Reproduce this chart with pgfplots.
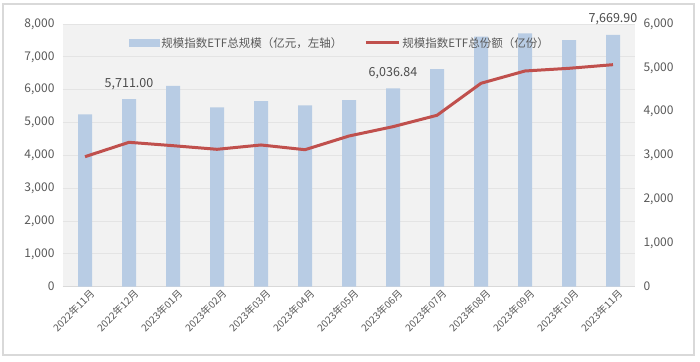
\documentclass[border=0pt]{standalone}
\usepackage{pgfplots}
\pgfplotsset{compat=1.18}
\usepackage{fontspec}
\setmainfont{Noto Sans CJK SC}
\definecolor{barc}{HTML}{B8CCE4}
\definecolor{linec}{HTML}{C0504D}
\definecolor{txt}{HTML}{595959}
\definecolor{bg}{HTML}{F2F2F2}
\definecolor{gridc}{HTML}{E4E4E4}
\definecolor{framec}{HTML}{D9D9D9}
\begin{document}
\begin{tikzpicture}[x=1pt,y=1pt]
\useasboundingbox (-63,-74.3) rectangle (637,286.7);
\fill[white] (-63,-74.3) rectangle (637,286.7);
\draw[framec, line width=1.3pt] (-60,-68.3) rectangle (631,282.7);
\begin{axis}[
  at={(0,0)}, anchor=south west,
  scale only axis, width=572pt, height=262.7pt,
  xmin=-0.5, xmax=12.5, ymin=0, ymax=8000,
  clip=false,
  axis background/.style={fill=bg},
  axis x line*=bottom, axis y line*=left,
  x axis line style={framec, line width=1pt, -},
  y axis line style={draw=none},
  major tick length=0pt,
  ytick={0,1000,...,8000},
  ymajorgrids, grid style={gridc, line width=0.9pt},
  xtick={0,...,12},
  xticklabels={2022年11月,2022年12月,2023年01月,2023年02月,2023年03月,2023年04月,2023年05月,2023年06月,2023年07月,2023年08月,2023年09月,2023年10月,2023年11月},
  xticklabel style={font=\fontsize{10}{12}\selectfont, text=txt, rotate=45, anchor=north east, xshift=5pt, yshift=-1pt},
  yticklabel style={font=\fontsize{12}{14}\selectfont, text=txt, xshift=-5pt},
  /pgf/number format/.cd, 1000 sep={,}, assume math mode=true,
]
\addplot[ybar, bar width=14pt, fill=barc, draw=none] coordinates {
(0,5250) (1,5711) (2,6112) (3,5463) (4,5655) (5,5524) (6,5685) (7,6036.84) (8,6629) (9,7613) (10,7716) (11,7512) (12,7669.9)};
\addplot[draw=none, mark=none, nodes near coords, point meta=explicit symbolic,
  every node near coord/.style={font=\fontsize{12.5}{14}\selectfont, text=txt!85!black, anchor=south, yshift=6pt}] coordinates {
(1,5711) [{5,711.00}] (7,6036.84) [{6,036.84}] (12,7669.9) [{7,669.90}]};
\end{axis}
\begin{axis}[
  at={(0,0)}, anchor=south west,
  scale only axis, width=572pt, height=262.7pt,
  xmin=-0.5, xmax=12.5, ymin=0, ymax=6000,
  hide x axis,
  axis y line*=right,
  y axis line style={draw=none},
  major tick length=0pt,
  ytick={0,1000,...,6000},
  yticklabel style={font=\fontsize{12}{14}\selectfont, text=txt, xshift=5pt},
  legend style={at={(0.484,0.928)}, anchor=center, draw=none, fill=none,
    font=\fontsize{11.5}{13}\selectfont, text=txt, legend columns=2,
    /tikz/every even column/.append style={column sep=20pt}},
  legend cell align=left,
  /pgf/number format/.cd, 1000 sep={,}, assume math mode=true,
]
\addlegendimage{legend image code/.code={\fill[barc] (0pt,-3.5pt) rectangle (30pt,3.5pt);}}
\addlegendentry{规模指数ETF总规模（亿元，左轴）}
\addplot[linec, line width=3pt, mark=none, line join=round,
  legend image code/.code={\draw[linec, line width=3pt] (0pt,0pt) -- (33pt,0pt);}] coordinates {
(0,2970) (1,3298) (2,3221) (3,3138) (4,3237) (5,3129) (6,3442) (7,3655) (8,3915) (9,4646) (10,4927) (11,4988) (12,5071)};
\addlegendentry{规模指数ETF总份额（亿份）}
\end{axis}
\end{tikzpicture}
\end{document}
